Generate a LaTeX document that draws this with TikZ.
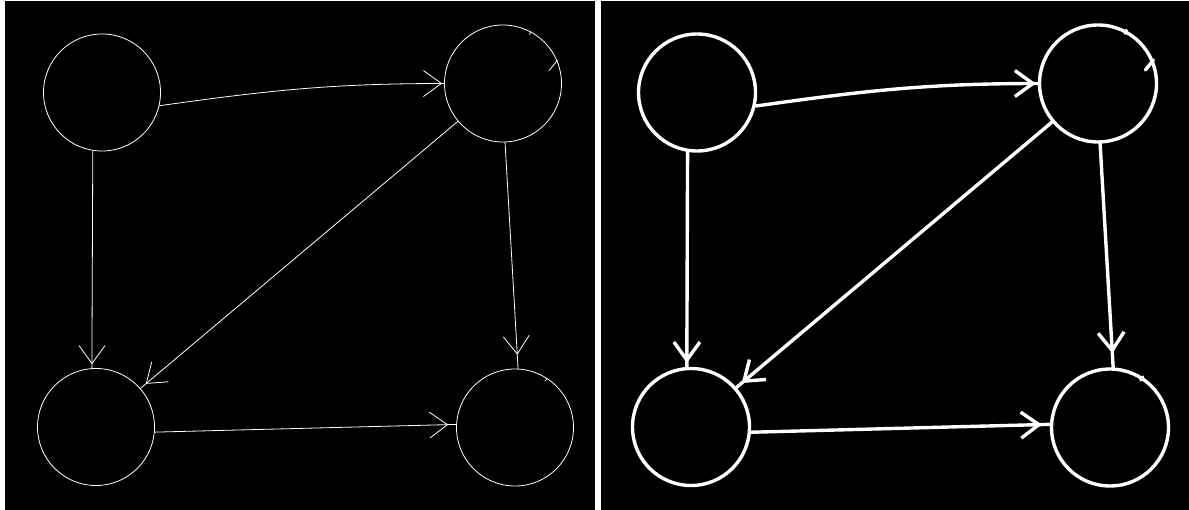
\documentclass[tikz,border=0pt]{standalone}
\usetikzlibrary{decorations.markings}
\usetikzlibrary{arrows.meta}
\tikzset{
	vertex/.style={circle, draw=white, minimum size=117pt, inner sep=0pt},
	barb before/.style={
		postaction={
			decorate,
			decoration={
				markings,
				mark=at position {-#1} with {\arrow{Straight Barb[length=18pt, width=26pt]}}
			}
		}
	}
}
\begin{document}
\begin{tikzpicture}[x=1pt, y=-1pt, line cap=round]
	\useasboundingbox (0, 0) rectangle (1189, 510);
	\fill[white] (0, 0) rectangle (1189, 510);
	\fill[black] (5, 1) rectangle (595, 510);
	\fill[black] (601, 1) rectangle (1189, 510);
	
	% same graph twice, thin strokes left and thick strokes right
	\foreach \side/\dx/\lw in {L/0/0.8pt, R/595/3.4pt}{
		\begin{scope}[xshift=\dx pt, line width=\lw, white]
			\node[vertex] (tl\side) at (102, 92.5) {};
			\node[vertex] (tr\side) at (503, 83.5) {};
			\node[vertex] (bl\side) at (96, 427) {};
			\node[vertex] (br\side) at (515, 427.5) {};
			
			\draw[barb before=2pt] (tl\side.-13) to[out=8, in=180] (tr\side.180);
			\draw[barb before=4pt] (tl\side.-99) -- (bl\side.94);
			\draw[barb before=7pt] (tr\side.220) -- (bl\side.41);
			\draw[barb before=14pt] (tr\side.-88) -- (br\side.87);
			\draw[barb before=8pt] (bl\side.-5) -- (br\side.177);
			
			% small pen marks on the circles
			\draw (tr\side.23) -- ++(-8, 10);
			\draw (tr\side.62) -- ++(-1, 3);
			\draw (br\side.57) -- ++(-2, 3);
		\end{scope}
	}
\end{tikzpicture}
\end{document}
